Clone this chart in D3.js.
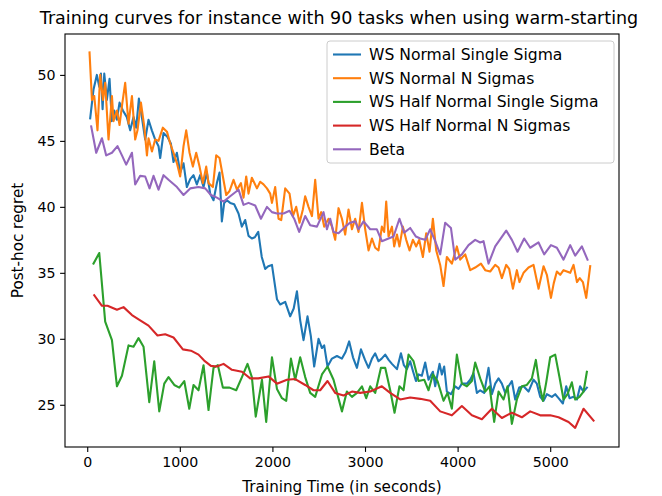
<!DOCTYPE html>
<html><head><meta charset="utf-8">
<script src="https://cdn.jsdelivr.net/npm/d3@7"></script>
<style>
html,body{margin:0;padding:0;background:#fff;}
svg text{font-family:"DejaVu Sans",sans-serif;fill:#000;}
</style></head>
<body><svg id="c" width="662" height="496"></svg>
<script>
const titleText = "Training curves for instance with 90 tasks when using warm-starting";
const xLabel = "Training Time (in seconds)";
const yLabel = "Post-hoc regret";
const xTicks = [0,1000,2000,3000,4000,5000];
const yTicks = [25,30,35,40,45,50];
const seriesNames = ["WS Normal Single Sigma","WS Normal N Sigmas","WS Half Normal Single Sigma","WS Half Normal N Sigmas","Beta"];
const seriesColors = ["#1f77b4","#ff7f0e","#2ca02c","#d62728","#9467bd"];

const wsNormalSingle = [[32,46.7],[68,48.9],[104,50.0],[130,49.1],[148,50.1],[166,47.4],[184,50.1],[212,48.1],[241,49.7],[266,46.5],[292,47.3],[320,46.6],[349,47.9],[385,47.3],[428,46.8],[464,45.8],[500,46.8],[529,46.0],[558,48.2],[590,46.8],[626,45.1],[662,46.6],[698,45.8],[734,45.1],[770,44.6],[788,43.7],[824,45.6],[867,45.3],[903,44.8],[932,43.4],[968,44.1],[1004,42.6],[1040,43.3],[1076,41.5],[1112,42.1],[1148,42.4],[1184,41.7],[1220,42.4],[1256,41.5],[1292,42.6],[1328,41.0],[1364,40.5],[1400,41.8],[1429,42.6],[1454,38.9],[1479,40.3],[1508,40.5],[1544,40.3],[1587,40.2],[1634,39.5],[1670,38.5],[1706,39.0],[1742,37.8],[1778,37.6],[1810,37.7],[1847,38.1],[1885,36.2],[1922,35.3],[1955,35.5],[1995,35.6],[2049,33.0],[2084,32.6],[2138,32.8],[2192,31.7],[2230,32.3],[2265,33.6],[2300,31.4],[2336,29.9],[2379,31.7],[2415,30.2],[2451,27.9],[2498,30.0],[2535,29.3],[2559,29.5],[2595,27.9],[2643,28.5],[2697,28.7],[2751,28.5],[2790,29.0],[2829,29.8],[2870,28.6],[2913,27.8],[2956,29.2],[3000,28.4],[3038,27.8],[3075,28.5],[3110,28.9],[3146,28.3],[3180,28.5],[3218,28.8],[3255,28.4],[3291,28.1],[3345,27.7],[3388,28.9],[3420,28.0],[3452,27.7],[3488,28.3],[3520,27.5],[3550,26.8],[3578,27.3],[3614,27.2],[3650,28.2],[3686,26.9],[3733,27.5],[3758,26.4],[3805,28.1],[3830,27.3],[3855,27.9],[3884,26.0],[3928,25.8],[3974,26.4],[4010,26.2],[4046,26.6],[4100,26.6],[4136,26.9],[4172,27.4],[4208,25.9],[4244,26.1],[4287,25.9],[4334,27.8],[4370,25.8],[4406,26.6],[4442,27.0],[4478,26.6],[4514,25.9],[4550,26.4],[4586,26.8],[4622,25.4],[4665,26.3],[4712,26.4],[4766,26.0],[4820,26.9],[4856,26.6],[4892,25.6],[4928,25.3],[4964,25.8],[5018,25.6],[5054,25.8],[5090,25.5],[5137,25.1],[5173,26.4],[5209,25.5],[5252,25.6],[5289,25.4],[5323,26.4],[5360,26.0],[5396,26.3]];

const wsNormalN = [[25,51.7],[51,48.1],[76,48.4],[111,45.8],[140,50.0],[170,48.1],[194,49.4],[230,45.1],[267,48.4],[284,46.5],[321,47.3],[349,46.2],[378,47.8],[410,49.4],[446,46.3],[483,48.4],[518,45.1],[543,45.8],[580,47.9],[616,46.1],[645,43.9],[662,45.2],[699,44.2],[734,45.1],[770,45.0],[817,46.0],[861,45.7],[896,44.8],[932,44.1],[969,43.3],[1004,42.3],[1040,44.6],[1069,45.8],[1105,44.1],[1141,43.05],[1177,44.1],[1213,43.05],[1249,41.8],[1285,43.05],[1310,41.8],[1357,41.5],[1393,43.9],[1429,43.7],[1465,42.3],[1501,40.9],[1537,41.2],[1580,42.05],[1617,41.3],[1660,41.8],[1688,40.7],[1717,42.3],[1742,41.0],[1778,42.2],[1833,41.4],[1868,41.9],[1904,41.7],[1941,41.4],[1976,41.0],[1995,40.3],[2030,41.5],[2066,39.1],[2095,39.0],[2138,41.4],[2185,41.0],[2221,39.3],[2257,40.0],[2293,38.8],[2329,39.8],[2354,40.8],[2390,40.0],[2427,39.3],[2462,42.05],[2498,39.1],[2527,39.6],[2559,38.5],[2606,39.1],[2643,38.5],[2678,37.5],[2714,39.9],[2751,39.1],[2786,37.9],[2822,39.8],[2859,38.3],[2894,39.1],[2930,38.1],[2967,40.3],[3002,38.3],[3038,36.7],[3075,37.6],[3110,36.9],[3146,36.7],[3182,38.5],[3207,38.1],[3229,40.4],[3254,37.75],[3291,38.5],[3315,37.0],[3345,37.9],[3372,37.0],[3409,38.5],[3445,37.5],[3481,36.7],[3517,37.5],[3553,37.0],[3585,37.5],[3625,36.2],[3661,38.0],[3697,36.6],[3733,39.1],[3769,36.7],[3812,35.6],[3848,34.0],[3884,36.2],[3938,35.7],[3992,37.0],[4028,36.0],[4082,36.4],[4136,35.2],[4190,35.4],[4252,35.7],[4298,35.2],[4352,35.1],[4406,35.6],[4442,35.4],[4478,34.6],[4525,35.6],[4557,35.3],[4597,33.8],[4640,35.2],[4668,34.3],[4712,35.0],[4766,35.4],[4820,35.6],[4874,33.8],[4928,35.5],[4964,34.85],[5008,33.1],[5038,34.2],[5072,35.1],[5108,34.85],[5144,35.2],[5180,35.1],[5216,35.0],[5252,35.6],[5289,34.3],[5319,34.6],[5353,34.3],[5389,33.1],[5432,35.5]];

const wsHalfSingle = [[68,35.7],[130,36.5],[194,31.3],[267,29.9],[321,26.4],[375,27.2],[446,29.5],[500,29.4],[554,30.05],[608,29.4],[670,25.2],[724,28.3],[778,24.5],[832,26.6],[878,27.1],[940,26.5],[994,26.3],[1048,26.8],[1102,24.7],[1148,26.5],[1202,26.1],[1256,28.0],[1310,24.6],[1364,27.8],[1411,28.0],[1465,26.3],[1537,26.3],[1609,26.1],[1671,27.1],[1731,28.1],[1778,27.1],[1820,24.1],[1887,26.9],[1933,23.7],[1995,28.6],[2049,26.2],[2103,25.5],[2149,25.3],[2200,28.5],[2246,26.9],[2300,28.6],[2354,27.1],[2408,25.9],[2462,25.6],[2535,27.3],[2595,27.9],[2660,26.9],[2751,24.5],[2804,26.0],[2859,25.6],[2913,25.9],[2967,26.4],[3013,25.5],[3056,26.4],[3110,25.9],[3172,27.8],[3218,27.8],[3272,26.1],[3319,24.4],[3372,26.4],[3416,26.1],[3470,28.8],[3524,28.3],[3578,26.8],[3639,26.9],[3686,26.1],[3733,27.3],[3783,26.8],[3848,25.3],[3891,25.9],[3938,24.7],[3992,28.8],[4046,26.6],[4100,26.4],[4154,26.8],[4190,28.2],[4244,27.0],[4298,26.0],[4345,26.4],[4395,23.7],[4442,26.0],[4496,25.4],[4539,26.4],[4586,23.55],[4640,25.4],[4694,26.4],[4748,26.5],[4802,27.0],[4845,28.4],[4884,26.5],[4921,25.3],[4957,26.7],[5000,28.6],[5054,28.8],[5100,27.1],[5144,25.4],[5187,25.8],[5234,26.7],[5270,25.4],[5316,25.6],[5360,26.0],[5396,27.5]];

const wsHalfN = [[76,33.3],[159,32.5],[219,32.5],[321,32.2],[392,32.4],[483,31.8],[572,31.4],[662,31.0],[759,30.25],[842,30.35],[932,30.1],[1033,29.2],[1120,29.1],[1202,28.8],[1263,28.35],[1336,27.95],[1400,27.9],[1472,28.1],[1563,27.65],[1671,27.5],[1760,27.0],[1847,27.0],[1958,27.15],[2049,26.6],[2157,26.9],[2246,26.95],[2354,26.5],[2444,26.1],[2516,26.1],[2595,26.8],[2678,25.9],[2768,25.7],[2859,26.0],[2948,25.9],[3056,26.0],[3182,26.4],[3272,25.9],[3380,25.4],[3488,25.55],[3596,25.45],[3704,25.3],[3812,24.5],[3938,24.2],[4046,24.9],[4154,24.2],[4262,23.9],[4370,24.7],[4478,24.0],[4586,24.4],[4694,24.05],[4784,24.5],[4892,24.2],[5000,24.2],[5090,24.05],[5198,23.7],[5270,23.25],[5360,24.7],[5468,23.8]];

const beta = [[43,46.1],[97,44.1],[159,45.2],[205,43.9],[267,44.1],[327,44.6],[375,43.9],[421,43.2],[483,44.1],[518,41.7],[572,42.35],[626,42.3],[673,41.4],[716,42.35],[770,41.3],[824,42.4],[878,42.05],[969,41.5],[1040,40.9],[1112,41.4],[1202,41.5],[1274,41.4],[1336,40.9],[1400,40.7],[1472,40.4],[1544,40.8],[1634,41.3],[1688,40.15],[1742,40.3],[1814,40.1],[1876,39.1],[1941,40.0],[1995,39.6],[2049,39.5],[2120,39.5],[2185,39.7],[2235,39.1],[2289,38.1],[2354,39.3],[2408,38.6],[2481,38.5],[2552,39.6],[2589,38.3],[2624,39.1],[2660,38.1],[2714,38.0],[2786,38.5],[2840,38.8],[2894,38.9],[2930,38.3],[2984,38.9],[3056,38.3],[3128,38.3],[3182,37.4],[3254,37.6],[3308,37.75],[3372,39.1],[3423,38.05],[3488,38.4],[3550,37.75],[3596,37.6],[3650,37.5],[3704,38.3],[3758,37.4],[3812,36.4],[3866,38.8],[3928,38.4],[3974,36.0],[4046,36.4],[4118,37.1],[4190,37.5],[4244,37.3],[4280,37.4],[4334,35.7],[4406,37.0],[4525,38.2],[4586,37.5],[4647,36.6],[4719,37.6],[4784,36.9],[4874,37.3],[4935,36.4],[5008,37.1],[5072,36.9],[5144,36.0],[5216,37.1],[5270,36.3],[5342,37.0],[5403,36.0]];

const allSeries = [wsNormalSingle, wsNormalN, wsHalfSingle, wsHalfN, beta];

const svg = d3.select("#c");
const L = 65, R = 619, T = 34, B = 447;
const x = d3.scaleLinear().domain([-240, 5743]).range([L, R]);
const y = d3.scaleLinear().domain([21.8, 53.1]).range([B, T]);

const line = d3.line().x(d => x(d[0])).y(d => y(d[1]));
const g = svg.append("g");
g.append("defs").append("clipPath").attr("id","clip").append("rect")
  .attr("x",L).attr("y",T).attr("width",R-L).attr("height",B-T);
allSeries.forEach((s,i) => {
  g.append("path").datum(s).attr("d", line)
    .attr("fill","none").attr("stroke",seriesColors[i]).attr("stroke-width",2.1)
    .attr("stroke-linejoin","round").attr("stroke-linecap","square")
    .attr("clip-path","url(#clip)");
});

// axes
const xAxis = d3.axisBottom(x).tickValues(xTicks).tickSize(4.9).tickPadding(4.5).tickFormat(d3.format("d"));
const yAxis = d3.axisLeft(y).tickValues(yTicks).tickSize(4.9).tickPadding(4.5).tickFormat(d3.format("d"));
const gx = svg.append("g").attr("transform",`translate(0,${B})`).call(xAxis);
const gy = svg.append("g").attr("transform",`translate(${L},0)`).call(yAxis);
[gx,gy].forEach(a => {
  a.select(".domain").remove();
  a.selectAll(".tick line").attr("stroke","#000").attr("stroke-width",1.1);
  a.selectAll(".tick text").attr("font-size","14.2px").attr("font-family","DejaVu Sans").attr("fill","#000");
});
gx.selectAll(".tick text").attr("dy","0.76em");

// frame
svg.append("rect").attr("x",L).attr("y",T).attr("width",R-L).attr("height",B-T)
  .attr("fill","none").attr("stroke","#000").attr("stroke-width",1.1);

// title & labels
svg.append("text").attr("x",(L+R)/2 - 3).attr("y",24).attr("text-anchor","middle")
  .attr("font-size","17.5px").text(titleText);
svg.append("text").attr("x",(L+R)/2).attr("y",492).attr("text-anchor","middle")
  .attr("font-size","15.2px").text(xLabel);
svg.append("text").attr("transform",`translate(23,${(T+B)/2}) rotate(-90)`).attr("text-anchor","middle")
  .attr("font-size","15.2px").text(yLabel);

// legend
const lg = svg.append("g");
lg.append("rect").attr("x",327).attr("y",41).attr("width",287).attr("height",122)
  .attr("rx",3).attr("fill","#fff").attr("fill-opacity",0.8).attr("stroke","#cccccc").attr("stroke-width",1);
seriesNames.forEach((n,i) => {
  const cy = 54.5 + i*23.7;
  lg.append("line").attr("x1",333).attr("x2",361).attr("y1",cy).attr("y2",cy)
    .attr("stroke",seriesColors[i]).attr("stroke-width",2.1);
  lg.append("text").attr("x",369).attr("y",cy+5.3).attr("font-size","15.6px").text(n);
});
</script></body></html>
